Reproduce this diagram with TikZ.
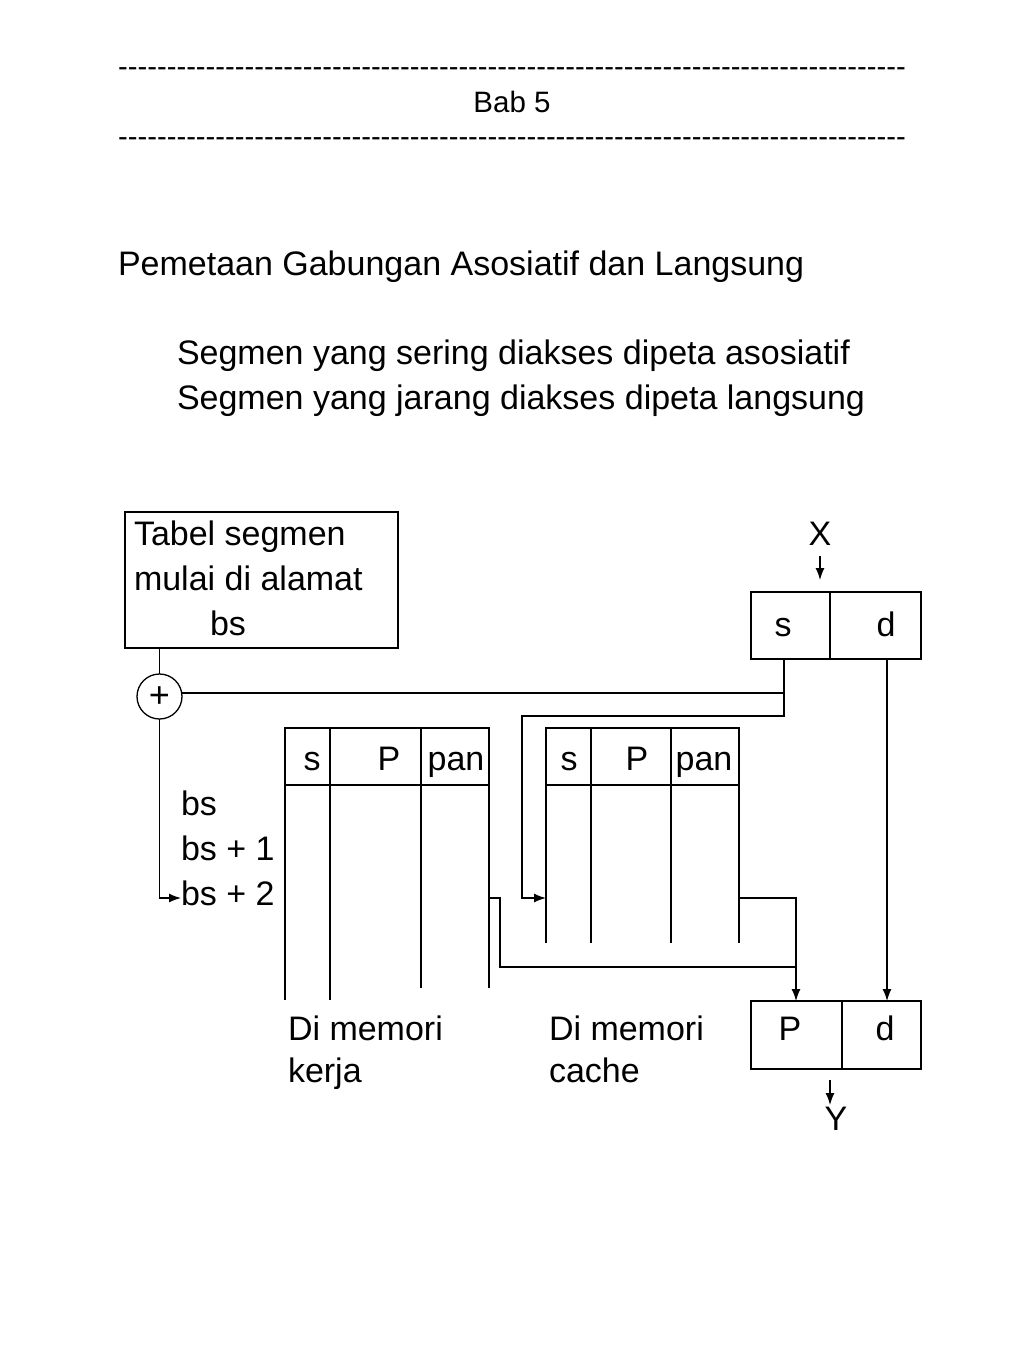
\documentclass[tikz,border=0pt]{standalone}
\usepackage{fontspec}
\setmainfont{Liberation Sans}
\usetikzlibrary{arrows.meta}
\newcommand\dashrow[1]{\foreach \i in {1,...,#1}{-\kern0pt}}
\begin{document}
\begin{tikzpicture}[x=1pt,y=-1pt,
  every node/.style={inner sep=0pt,outer sep=0pt},
  txt/.style={anchor=base west,font=\fontsize{34}{40}\selectfont},
  ctxt/.style={anchor=base,font=\fontsize{34}{40}\selectfont},
  box/.style={draw,line width=1.3pt},
  ln/.style={line width=1.3pt},
  arr/.style={line width=1.3pt,-{Latex[length=12pt,width=9pt]}},
  line width=1.3pt]
\useasboundingbox (0,0) rectangle (1024,1365);
% header
\node[anchor=base,font=\fontsize{29.2}{34}\selectfont] (dash1) at (512,76) {\dashrow{81}};
\node[anchor=base,font=\fontsize{29.5}{34}\selectfont] (bab) at (512,112) {Bab 5};
\node[anchor=base,font=\fontsize{29.2}{34}\selectfont] (dash2) at (512,146) {\dashrow{81}};
% titles
\node[txt] (title) at (118,275) {Pemetaan Gabungan Asosiatif dan Langsung};
\node[txt] (l1) at (177,364) {Segmen yang sering diakses dipeta asosiatif};
\node[txt] (l2) at (177,409) {Segmen yang jarang diakses dipeta langsung};
% tabel segmen box
\node[box,minimum width=273pt,minimum height=136pt] (tabel) at (261.5,580) {};
\node[txt] (t1) at (134,545) {Tabel segmen};
\node[txt] (t2) at (134,590) {mulai di alamat};
\node[txt] (t3) at (210,635) {bs};
% plus circle
\node[draw,circle,minimum size=45pt,line width=1.3pt] (plus) at (159.5,696.5) {};
\node[anchor=center,font=\fontsize{36}{40}\selectfont] (plustxt) at (159.5,697) {+};
% s d box
\node[box,minimum width=79pt,minimum height=67pt] (sbox) at (790.5,625.5) {};
\node[box,minimum width=91pt,minimum height=67pt] (dbox) at (875.5,625.5) {};
\node[ctxt] (stxt) at (783,636) {s};
\node[ctxt] (dtxt) at (886,636) {d};
\node[ctxt] (X) at (820,545) {X};
\coordinate (xa) at (820,556);
\coordinate (xb) at (820,580);
\draw[arr] (xa) -- (xb);
% P d box
\node[box,minimum width=91pt,minimum height=68pt] (pbox) at (796.5,1035) {};
\node[box,minimum width=79pt,minimum height=68pt] (d2box) at (881.5,1035) {};
\node[ctxt] (ptxt) at (790,1040) {P};
\node[ctxt] (d2txt) at (885,1040) {d};
\coordinate (ya) at (830,1080);
\coordinate (yb) at (830,1105);
\draw[arr] (ya) -- (yb);
\node[ctxt] (Y) at (836,1130) {Y};
% working memory table
\draw[ln] (285,1000) -- (285,728) -- (489,728) -- (489,988);
\draw[ln] (285,785) -- (489,785);
\draw[ln] (330,728) -- (330,1000);
\draw[ln] (421,728) -- (421,988);
\node[ctxt] (ws) at (312,770) {s};
\node[ctxt] (wp) at (389,770) {P};
\node[ctxt] (wpan) at (456,770) {pan};
% cache table
\draw[ln] (546,943) -- (546,728) -- (739,728) -- (739,943);
\draw[ln] (546,785) -- (739,785);
\draw[ln] (591,728) -- (591,943);
\draw[ln] (671,728) -- (671,943);
\node[ctxt] (cs) at (569,770) {s};
\node[ctxt] (cp) at (637,770) {P};
\node[ctxt] (cpan) at (704,770) {pan};
% bs labels
\node[txt] (bs0) at (181,815) {bs};
\node[txt] (bs1) at (181,860) {bs + 1};
\node[txt] (bs2) at (181,905) {bs + 2};
% memory labels
\node[txt] (wm1) at (288,1040) {Di memori};
\node[txt] (wm2) at (288,1082) {kerja};
\node[txt] (cm1) at (549,1040) {Di memori};
\node[txt] (cm2) at (549,1082) {cache};
% connectors
\coordinate (tabbot) at (159.5,648);
\draw[ln] (tabbot) -- (plus.north);
\coordinate (bsin) at (181,898);
\draw[arr] (plus.south) |- (bsin);
\coordinate (sj) at (784,693);
\draw[ln] ([yshift=3.5pt]plus.east) -- (sj);
\coordinate (sbot) at (784,659);
\coordinate (sj2) at (784,716);
\coordinate (cl) at (522,716);
\coordinate (centry) at (546,898);
\draw[arr] (sbot) -- (sj2) -- (cl) |- (centry);
\coordinate (dtop) at (887,659);
\coordinate (dbot) at (887,1001);
\draw[arr] (dtop) -- (dbot);
\coordinate (wout) at (489,898);
\coordinate (wout2) at (500,898);
\coordinate (pj) at (796,967);
\coordinate (ptop) at (796,1001);
\coordinate (cout) at (739,898);
\draw[ln] (cout) -| (pj);
\draw[arr] (wout) -- (wout2) |- (pj) -- (ptop);
\end{tikzpicture}
\end{document}
